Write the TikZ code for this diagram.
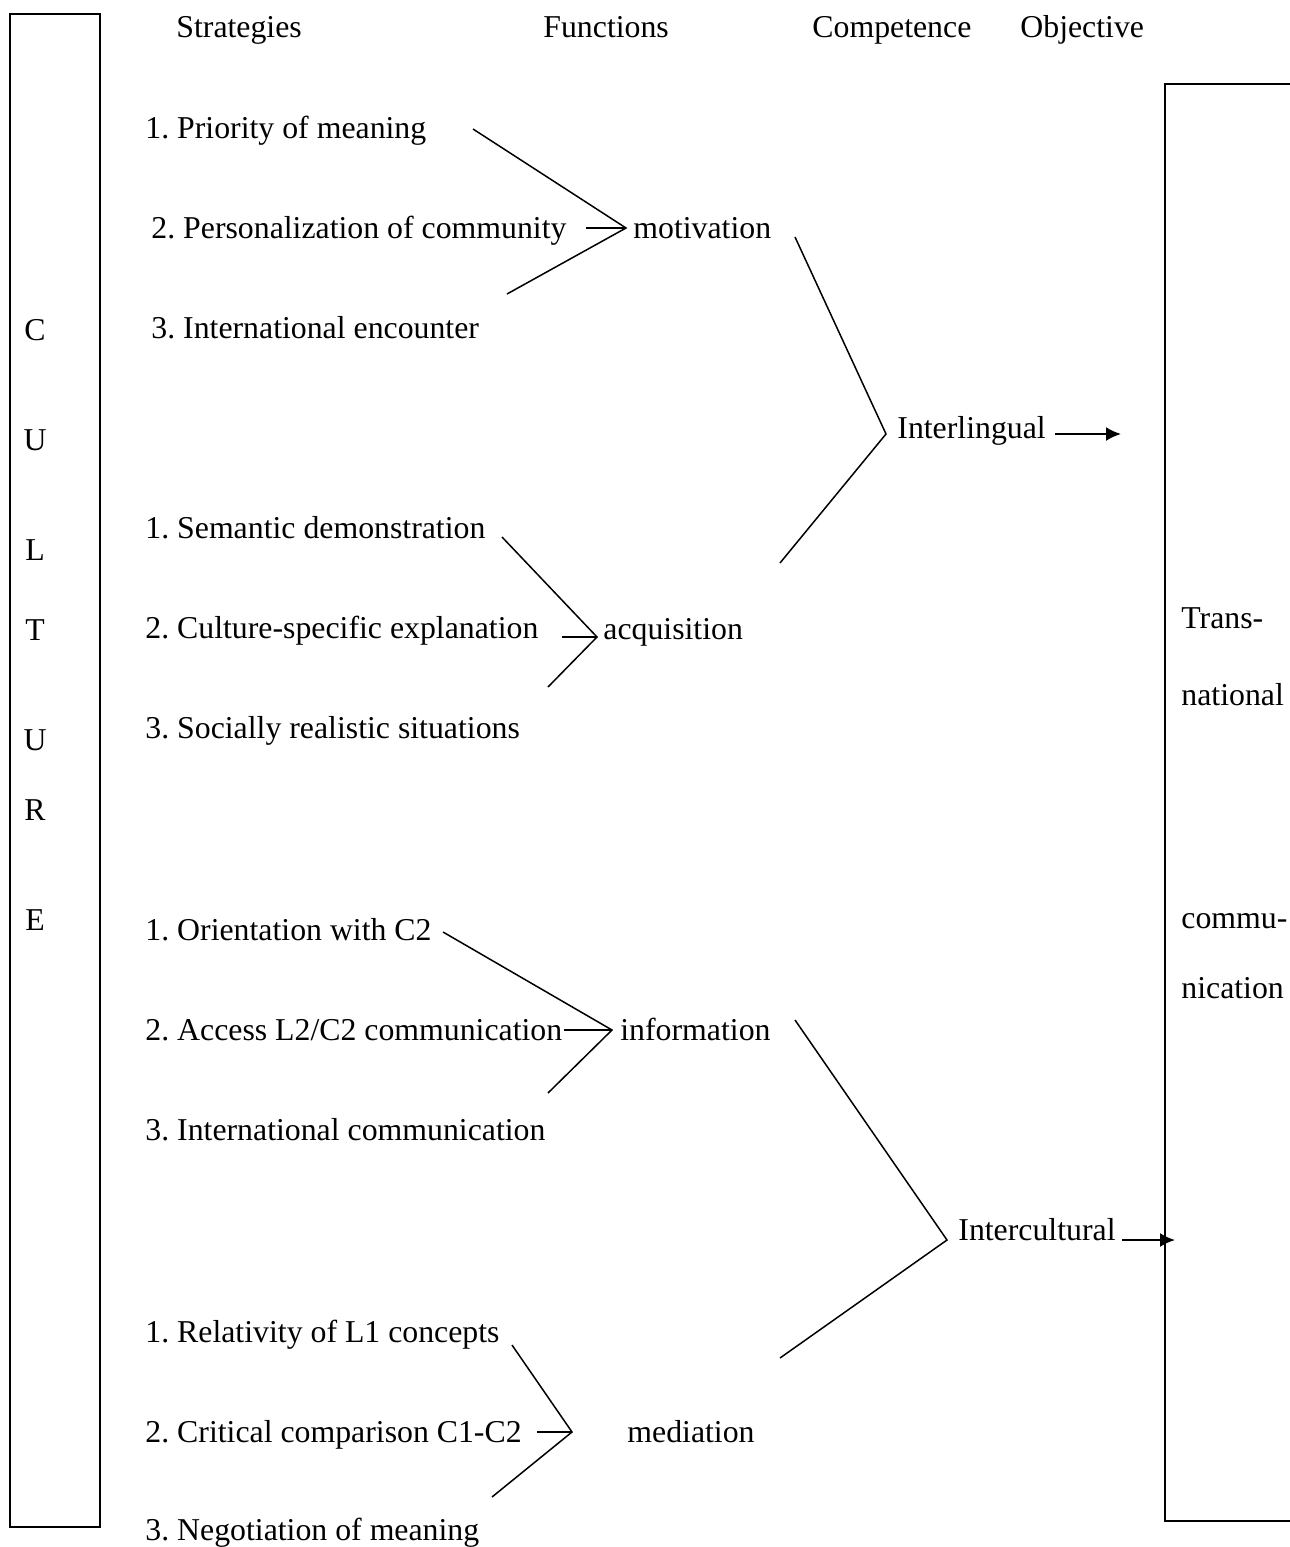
\documentclass[tikz,border=0pt]{standalone}
\usepackage{fontspec}
\setmainfont{Liberation Serif}
\usetikzlibrary{arrows.meta}
\frenchspacing

\tikzset{
  lbl/.style={anchor=base west, inner sep=0pt, font=\fontsize{15.9}{19}\selectfont},
  ctr/.style={anchor=base, inner sep=0pt, font=\fontsize{15.9}{19}\selectfont},
  frame/.style={line width=1.1pt},
  branch/.style={line width=0.75pt},
  stem/.style={line width=1pt},
  feed/.style={line width=1pt, -{Latex[length=7.5pt,width=7pt]}},
}

\begin{document}
\begin{tikzpicture}[x=0.5pt, y=-0.5pt]
\useasboundingbox (0,0) rectangle (1290,1547);

% side frames
\draw[frame] (10,14) rectangle (100,1527);
\draw[frame] (1292,84) -- (1165,84) -- (1165,1521) -- (1292,1521);

% column headings
\node[lbl] (hS) at (176,38) {Strategies};
\node[lbl] (hF) at (543,38) {Functions};
\node[lbl] (hC) at (812,38) {Competence};
\node[lbl] (hO) at (1020,38) {Objective};

% CULTURE, spelled down the left frame
\node[ctr] (c1) at (35,340) {C};
\node[ctr] (c2) at (35,450) {U};
\node[ctr] (c3) at (35,560) {L};
\node[ctr] (c4) at (35,640) {T};
\node[ctr] (c5) at (35,750) {U};
\node[ctr] (c6) at (35,820) {R};
\node[ctr] (c7) at (35,930) {E};

% objective text in the right frame
\node[lbl] (o1) at (1181,628) {Trans-};
\node[lbl] (o2) at (1181,705) {national};
\node[lbl] (o3) at (1181,928) {commu-};
\node[lbl] (o4) at (1181,998) {nication};

% strategies
\node[lbl] (a1) at (145,138) {1. Priority of meaning};
\node[lbl] (a2) at (151,238) {2. Personalization of community};
\node[lbl] (a3) at (151,338) {3. International encounter};

\node[lbl] (b1) at (145,538) {1. Semantic demonstration};
\node[lbl] (b2) at (145,638) {2. Culture-specific explanation};
\node[lbl] (b3) at (145,738) {3. Socially realistic situations};

\node[lbl] (d1) at (145,940) {1. Orientation with C2};
\node[lbl] (d2) at (145,1040) {2. Access L2/C2 communication};
\node[lbl] (d3) at (145,1140) {3. International communication};

\node[lbl] (e1) at (145,1342) {1. Relativity of L1 concepts};
\node[lbl] (e2) at (145,1442) {2. Critical comparison C1-C2};
\node[lbl] (e3) at (145,1540) {3. Negotiation of meaning};

% functions
\node[lbl] (fm) at (633,238) {motivation};
\node[lbl] (fa) at (603,639) {acquisition};
\node[lbl] (fi) at (620,1040) {information};
\node[lbl] (fd) at (627,1442) {mediation};

% competences
\node[lbl] (ki) at (897,438) {Interlingual};
\node[lbl] (kc) at (958,1240) {Intercultural};

% branch points
\coordinate (vm) at (626,228);
\coordinate (va) at (597,637);
\coordinate (vi) at (612,1030);
\coordinate (vd) at (572,1432);
\coordinate (vl) at (886,434);
\coordinate (vc) at (947,1240);

% strategies -> functions
\coordinate (am1) at (473,129);
\coordinate (am2) at (586,228);
\coordinate (am3) at (507,294);
\draw[branch] (am1) -- (vm) -- (am3);
\draw[stem] (am2) -- (vm);

\coordinate (bm1) at (502,537);
\coordinate (bm2) at (562,637);
\coordinate (bm3) at (548,687);
\draw[branch] (bm1) -- (va) -- (bm3);
\draw[stem] (bm2) -- (va);

\coordinate (dm1) at (443,932);
\coordinate (dm2) at (564,1030);
\coordinate (dm3) at (548,1093);
\draw[branch] (dm1) -- (vi) -- (dm3);
\draw[stem] (dm2) -- (vi);

\coordinate (em1) at (512,1345);
\coordinate (em2) at (537,1432);
\coordinate (em3) at (492,1497);
\draw[branch] (em1) -- (vd) -- (em3);
\draw[stem] (em2) -- (vd);

% functions -> competences
\coordinate (fl1) at (795,237);
\coordinate (fl2) at (780,563);
\draw[branch] (fl1) -- (vl) -- (fl2);

\coordinate (fc1) at (795,1020);
\coordinate (fc2) at (780,1358);
\draw[branch] (fc1) -- (vc) -- (fc2);

% competences -> objective
\coordinate (al) at (1055,434);
\coordinate (alt) at (1121,434);
\draw[feed] (al) -- (alt);
\coordinate (ac) at (1122,1240);
\coordinate (act) at (1175,1240);
\draw[feed] (ac) -- (act);
\end{tikzpicture}
\end{document}
